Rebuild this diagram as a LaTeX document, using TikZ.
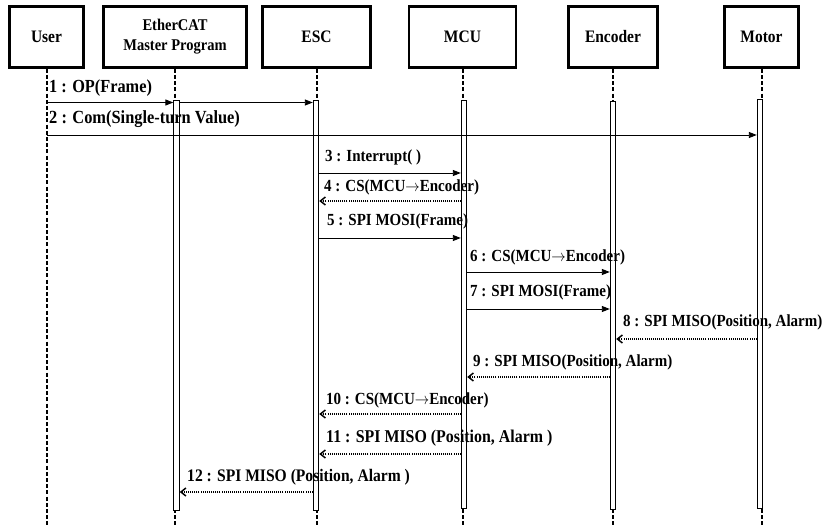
\documentclass[tikz,border=0pt]{standalone}
\usepackage{graphicx}
\usepackage{fontspec}
\setmainfont{Liberation Serif}
\usetikzlibrary{arrows.meta}
\newcommand{\tallt}[1]{\scalebox{1}[1.13]{#1}}
\newcommand{\myarr}{\ensuremath{\rightarrow}}
\begin{document}
\begin{tikzpicture}[x=1pt,y=-1pt,
  actor/.style={draw,line width=2.6pt,fill=white,font=\bfseries\fontsize{15.5}{17}\selectfont,align=center,inner sep=0,minimum height=61pt},
  life/.style={line width=2pt,dash pattern=on 4pt off 2.2pt},
  actbar/.style={draw,line width=0.9pt,fill=white,minimum width=5.5pt,inner sep=0,anchor=north},
  msg/.style={line width=0.9pt,-{Triangle[length=8pt,width=6pt]}},
  ret/.style={line width=1.1pt,dash pattern=on 1pt off 1.1pt,-{Straight Barb[length=5pt,width=8pt,line width=1.5pt]}},
  lbl/.style={font=\bfseries\fontsize{15}{17}\selectfont,anchor=west,inner sep=0}
]
\useasboundingbox (0,0) rectangle (822,526);
\fill[white] (0,0) rectangle (822,526);

% actors
\node[actor,minimum width=74pt]  (user)  at (46.5,37) {\tallt{User}};
\node[actor,minimum width=143pt,font=\bfseries\fontsize{14.5}{17}\selectfont] (ether) at (175,37) {\tallt{EtherCAT}\\[3pt]\tallt{Master Program}};
\node[actor,minimum width=108pt] (esc)   at (316.5,37) {\tallt{ESC}};
\node[actor,minimum width=107pt] (mcu)   at (462.5,37) {\tallt{MCU}};
\node[actor,minimum width=89pt]  (enc)   at (613,37) {\tallt{Encoder}};
\node[actor,minimum width=74pt]  (motor) at (761.5,37) {\tallt{Motor}};

\coordinate (bottom) at (0,526);

% lifelines
\draw[life] (user.south) -- (user.south |- bottom);
\draw[life] (ether.south) -- (ether.south |- bottom);
\draw[life] (esc.south) -- (esc.south |- bottom);
\draw[life] (mcu.south) -- (mcu.south |- bottom);
\draw[life] (enc.south) -- (enc.south |- bottom);
\draw[life] (motor.south) -- (motor.south |- bottom);

% activation bars
\node[actbar,minimum height=410pt] (ebar) at (176.5,100) {};
\node[actbar,minimum height=410pt] (sbar) at (316,100) {};
\node[actbar,minimum height=408pt] (mbar) at (464,100) {};
\node[actbar,minimum height=408pt] (nbar) at (613,101) {};
\node[actbar,minimum height=409pt] (tbar) at (760,99) {};

% rows
\coordinate (y1) at (0,102.5);
\coordinate (y2) at (0,135);
\coordinate (y3) at (0,173);
\coordinate (y4) at (0,201);
\coordinate (y5) at (0,238);
\coordinate (y6) at (0,272);
\coordinate (y7) at (0,309);
\coordinate (y8) at (0,339);
\coordinate (y9) at (0,377);
\coordinate (y10) at (0,414);
\coordinate (y11) at (0,454);
\coordinate (y12) at (0,492);

% messages
\draw[msg] (user.south |- y1) -- (ebar.west |- y1);
\draw[msg] (ebar.east |- y1) -- (sbar.west |- y1);
\draw[msg] (user.south |- y2) -- (tbar.west |- y2);
\draw[msg] (sbar.east |- y3) -- (mbar.west |- y3);
\draw[ret] (mbar.west |- y4) -- (sbar.east |- y4);
\draw[msg] (sbar.east |- y5) -- (mbar.west |- y5);
\draw[msg] (mbar.east |- y6) -- (nbar.west |- y6);
\draw[msg] (mbar.east |- y7) -- (nbar.west |- y7);
\draw[ret] (tbar.west |- y8) -- (nbar.east |- y8);
\draw[ret] (nbar.west |- y9) -- (mbar.east |- y9);
\draw[ret] (mbar.west |- y10) -- (sbar.east |- y10);
\draw[ret] (mbar.west |- y11) -- (sbar.east |- y11);
\draw[ret] (sbar.west |- y12) -- (ebar.east |- y12);

% labels
\node[lbl,font=\bfseries\fontsize{16.3}{18}\selectfont] (l1)  at (49,88)   {\tallt{1 : OP(Frame)}};
\node[lbl,font=\bfseries\fontsize{16.4}{18}\selectfont] (l2)  at (49,119)  {\tallt{2 : Com(Single-turn Value)}};
\node[lbl] (l3)  at (325,157) {\tallt{3 : Interrupt( )}};
\node[lbl] (l4)  at (324,187) {\tallt{4 : CS(MCU\myarr Encoder)}};
\node[lbl] (l5)  at (327,221) {\tallt{5 : SPI MOSI(Frame)}};
\node[lbl] (l6)  at (470,257) {\tallt{6 : CS(MCU\myarr Encoder)}};
\node[lbl] (l7)  at (470,292) {\tallt{7 : SPI MOSI(Frame)}};
\node[lbl] (l8)  at (623,322) {\tallt{8 : SPI MISO(Position, Alarm)}};
\node[lbl] (l9)  at (473,362) {\tallt{9 : SPI MISO(Position, Alarm)}};
\node[lbl] (l10) at (326,400) {\tallt{10 : CS(MCU\myarr Encoder)}};
\node[lbl,font=\bfseries\fontsize{15.9}{18}\selectfont] (l11) at (326,438) {\tallt{11 : SPI MISO (Position, Alarm )}};
\node[lbl,font=\bfseries\fontsize{15.6}{18}\selectfont] (l12) at (187,477) {\tallt{12 : SPI MISO (Position, Alarm )}};
\end{tikzpicture}
\end{document}
